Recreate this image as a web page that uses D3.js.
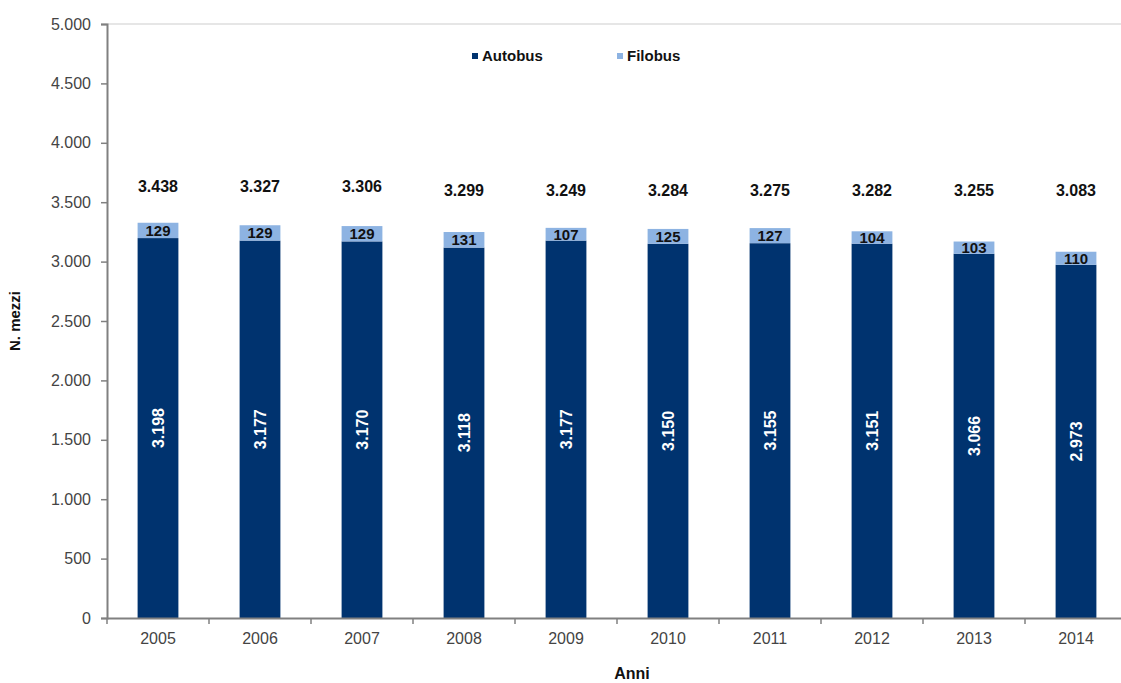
<!DOCTYPE html>
<html>
<head>
<meta charset="utf-8">
<script src="https://cdn.jsdelivr.net/npm/d3@7"></script>
<style>
  html, body { margin: 0; padding: 0; background: #fff; }
  svg { display: block; font-family: "Liberation Sans", Arial, sans-serif; }
</style>
</head>
<body>
<svg id="chart" width="1121" height="683"></svg>
<script>
// Anni e numero di mezzi per tipologia
const years = ["2005", "2006", "2007", "2008", "2009", "2010", "2011", "2012", "2013", "2014"];
const autobus = [3198, 3177, 3170, 3118, 3177, 3150, 3155, 3151, 3066, 2973];
const filobus = [129, 129, 129, 131, 107, 125, 127, 104, 103, 110];
const totalLabels = ["3.438", "3.327", "3.306", "3.299", "3.249", "3.284", "3.275", "3.282", "3.255", "3.083"];
const yTicks = [0, 500, 1000, 1500, 2000, 2500, 3000, 3500, 4000, 4500, 5000];
const seriesNames = ["Autobus", "Filobus"];

const colors = { Autobus: "#00336f", Filobus: "#8db3e2" };
const fmt = v => d3.format(",")(v).replace(/,/g, ".");

const svg = d3.select("#chart");
const x0 = 107, y0 = 618, yTop = 24;

const x = d3.scaleBand().domain(years).range([x0, x0 + 102 * years.length]).paddingInner(0.6).paddingOuter(0.3);
const xb = d3.scaleBand().domain(years).range([x0, x0 + 102 * years.length]);
const y = d3.scaleLinear().domain([0, 5000]).range([y0, yTop]);

// riquadro superiore dell'area del grafico
svg.append("line")
  .attr("x1", x0).attr("x2", 1121).attr("y1", y(5000)).attr("y2", y(5000))
  .attr("stroke", "#e6e6e6").attr("stroke-width", 2);

// barre impilate
const rows = years.map((yr, i) => ({ year: yr, Autobus: autobus[i], Filobus: filobus[i] }));
const stacked = d3.stack().keys(seriesNames)(rows);

svg.append("g").selectAll("g").data(stacked).join("g")
  .attr("fill", d => colors[d.key])
  .selectAll("rect").data(d => d).join("rect")
  .attr("x", d => x(d.data.year))
  .attr("width", x.bandwidth())
  .attr("y", d => y(d[1]))
  .attr("height", d => y(d[0]) - y(d[1]));

// etichette Autobus (ruotate, bianche)
svg.append("g").selectAll("text").data(stacked[0]).join("text")
  .attr("transform", d => `translate(${x(d.data.year) + x.bandwidth() / 2},${(y(d[0]) + y(d[1])) / 2}) rotate(-90)`)
  .attr("text-anchor", "middle").attr("dy", "0.36em")
  .attr("fill", "#fff").attr("font-weight", "bold").attr("font-size", 16)
  .text(d => fmt(d.data.Autobus));

// etichette Filobus
svg.append("g").selectAll("text").data(stacked[1]).join("text")
  .attr("x", d => x(d.data.year) + x.bandwidth() / 2)
  .attr("y", d => (y(d[0]) + y(d[1])) / 2)
  .attr("text-anchor", "middle").attr("dy", "0.36em")
  .attr("fill", "#111").attr("font-weight", "bold").attr("font-size", 15)
  .text(d => fmt(d.data.Filobus));

// totali
svg.append("g").selectAll("text").data(years).join("text")
  .attr("x", d => x(d) + x.bandwidth() / 2)
  .attr("y", (d, i) => y(3615) + (i < 3 ? -2 : 2))
  .attr("text-anchor", "middle").attr("dy", "0.36em")
  .attr("fill", "#111").attr("font-weight", "bold").attr("font-size", 16)
  .text((d, i) => totalLabels[i]);

// asse Y
const yAxis = svg.append("g").attr("transform", `translate(${x0},0)`)
  .call(d3.axisLeft(y).tickValues(yTicks).tickFormat(fmt).tickSize(6).tickPadding(10));
yAxis.select(".domain").attr("stroke", "#808080").attr("stroke-width", 2);
yAxis.selectAll(".tick line").attr("stroke", "#808080").attr("stroke-width", 1.5);
yAxis.selectAll(".tick text").attr("font-size", 16).attr("fill", "#444")
  .attr("font-family", "'Liberation Sans', Arial, sans-serif");

// asse X
const xAxis = svg.append("g").attr("transform", `translate(0,${y0})`)
  .call(d3.axisBottom(xb).tickSize(0).tickPadding(15));
xAxis.select(".domain").attr("stroke", "#808080").attr("stroke-width", 2);
xAxis.selectAll(".tick text").attr("font-size", 16).attr("fill", "#444")
  .attr("font-family", "'Liberation Sans', Arial, sans-serif");
xAxis.selectAll(".sep").data(years).join("line").attr("class", "sep")
  .attr("x1", d => xb(d)).attr("x2", d => xb(d))
  .attr("y1", 0).attr("y2", 6)
  .attr("stroke", "#808080").attr("stroke-width", 1.5);

// titoli degli assi
svg.append("text")
  .attr("transform", `translate(20,${(y(0) + y(5000)) / 2}) rotate(-90)`)
  .attr("text-anchor", "middle").attr("font-weight", "bold").attr("font-size", 15).attr("fill", "#111")
  .text("N. mezzi");
svg.append("text")
  .attr("x", 632).attr("y", 679)
  .attr("text-anchor", "middle").attr("font-weight", "bold").attr("font-size", 16).attr("fill", "#111")
  .text("Anni");

// legenda
const legendX = [472, 617];
const legend = svg.append("g").selectAll("g").data(seriesNames).join("g")
  .attr("transform", (d, i) => `translate(${legendX[i]},56)`);
legend.append("rect").attr("x", 0).attr("y", -3).attr("width", 6).attr("height", 6)
  .attr("fill", d => colors[d]);
legend.append("text").attr("x", 10).attr("dy", "0.36em")
  .attr("font-weight", "bold").attr("font-size", 15).attr("fill", "#111")
  .text(d => d);
</script>
</body>
</html>
